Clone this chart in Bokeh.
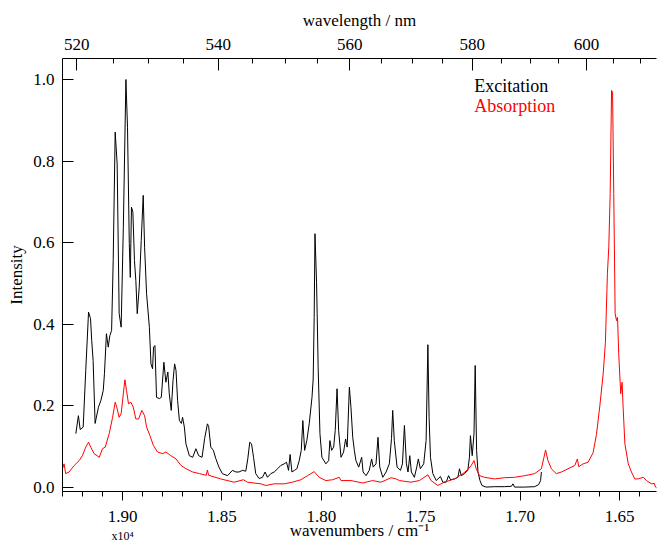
import numpy as np
from bokeh.plotting import figure
from bokeh.models import (Range1d, LinearAxis, FixedTicker, SingleIntervalTicker,
                          PrintfTickFormatter, CustomJSTickFormatter, Label)
from bokeh.embed import file_html
from bokeh.resources import INLINE

# ---- data (wavenumber in cm^-1, intensity) ----
exc_wn = [19235, 19222, 19213, 19198, 19185, 19171, 19161, 19155, 19148, 19138,
          19121, 19109, 19097, 19091, 19081, 19072, 19064, 19055, 19047, 19037,
          19027, 19017, 19007, 18996, 18983, 18975, 18966, 18961, 18955, 18948,
          18940, 18933, 18926, 18916, 18906, 18896, 18889, 18879, 18865, 18857,
          18849, 18844, 18837, 18829, 18815, 18805, 18792, 18782, 18772, 18765,
          18755, 18746, 18738, 18731, 18723, 18714, 18704, 18698, 18689, 18681,
          18664, 18647, 18631, 18617, 18600, 18587, 18573, 18567, 18556, 18543,
          18531, 18515, 18498, 18472, 18447, 18430, 18414, 18397, 18380, 18370,
          18360, 18351, 18341, 18330, 18313, 18296, 18283, 18271, 18254, 18237,
          18220, 18204, 18187, 18175, 18165, 18157, 18148, 18135, 18123, 18111,
          18101, 18093, 18084, 18073, 18061, 18047, 18041, 18036, 18032, 18024,
          18021, 18016, 18007, 17997, 17977, 17963, 17957, 17948, 17938, 17930,
          17921, 17913, 17901, 17888, 17878, 17870, 17859, 17851, 17842, 17834,
          17826, 17812, 17797, 17790, 17775, 17759, 17747, 17739, 17725, 17715,
          17706, 17691, 17674, 17658, 17647, 17641, 17633, 17619, 17602, 17592,
          17582, 17572, 17564, 17555, 17547, 17532, 17520, 17512, 17502, 17485,
          17473, 17464, 17458, 17451, 17439, 17422, 17401, 17389, 17372, 17360,
          17350, 17330, 17313, 17305, 17296, 17280, 17263, 17255, 17250, 17241,
          17232, 17226, 17219, 17212, 17202, 17192, 17171, 17129, 17078, 17044,
          17036, 17028, 16977, 16927, 16907, 16897, 16893]
exc_int = [0.132, 0.176, 0.142, 0.148, 0.287, 0.430, 0.414, 0.360, 0.311, 0.157,
           0.197, 0.213, 0.238, 0.279, 0.377, 0.344, 0.372, 0.385, 0.556, 0.871,
           0.793, 0.426, 0.393, 0.638, 1.000, 0.883, 0.598, 0.515, 0.687, 0.675,
           0.556, 0.507, 0.426, 0.491, 0.605, 0.716, 0.589, 0.475, 0.393, 0.303,
           0.291, 0.344, 0.348, 0.221, 0.218, 0.221, 0.307, 0.258, 0.283, 0.230,
           0.189, 0.262, 0.303, 0.287, 0.213, 0.164, 0.157, 0.172, 0.148, 0.107,
           0.078, 0.074, 0.095, 0.078, 0.074, 0.120, 0.156, 0.150, 0.099, 0.091,
           0.071, 0.050, 0.034, 0.029, 0.042, 0.038, 0.038, 0.042, 0.040, 0.070,
           0.111, 0.107, 0.074, 0.034, 0.022, 0.025, 0.038, 0.025, 0.034, 0.038,
           0.046, 0.054, 0.058, 0.062, 0.042, 0.081, 0.038, 0.042, 0.046, 0.066,
           0.091, 0.164, 0.091, 0.115, 0.156, 0.221, 0.266, 0.417, 0.622, 0.503,
           0.426, 0.295, 0.132, 0.074, 0.058, 0.066, 0.115, 0.091, 0.099, 0.140,
           0.242, 0.140, 0.074, 0.087, 0.119, 0.099, 0.246, 0.197, 0.123, 0.091,
           0.066, 0.050, 0.074, 0.038, 0.029, 0.042, 0.070, 0.050, 0.058, 0.123,
           0.050, 0.025, 0.038, 0.058, 0.120, 0.189, 0.115, 0.050, 0.042, 0.058,
           0.152, 0.058, 0.038, 0.078, 0.038, 0.025, 0.050, 0.070, 0.046, 0.058,
           0.115, 0.350, 0.172, 0.074, 0.034, 0.017, 0.027, 0.013, 0.013, 0.029,
           0.019, 0.021, 0.025, 0.046, 0.029, 0.034, 0.042, 0.074, 0.127, 0.078,
           0.132, 0.299, 0.091, 0.038, 0.017, 0.005, 0.001, 0.002, 0.002, 0.003,
           0.009, 0.001, 0.001, 0.002, 0.007, 0.017, 0.038]

abs_wn = [19302, 19294, 19286, 19269, 19243, 19218, 19202, 19185, 19171, 19160,
          19143, 19117, 19101, 19087, 19067, 19050, 19037, 19029, 19017, 19007,
          18996, 18988, 18980, 18970, 18958, 18946, 18933, 18919, 18903, 18889,
          18879, 18862, 18845, 18824, 18798, 18782, 18757, 18731, 18706, 18681,
          18647, 18613, 18579, 18573, 18567, 18506, 18439, 18392, 18372, 18304,
          18279, 18237, 18187, 18145, 18103, 18069, 18036, 18011, 17977, 17943,
          17910, 17901, 17851, 17792, 17742, 17700, 17649, 17624, 17607, 17549,
          17507, 17464, 17448, 17414, 17381, 17330, 17288, 17263, 17246, 17232,
          17221, 17204, 17179, 17129, 17078, 17028, 16977, 16927, 16893, 16880,
          16872, 16860, 16843, 16818, 16792, 16759, 16725, 16712, 16705, 16683,
          16658, 16633, 16616, 16599, 16582, 16571, 16561, 16554, 16547, 16540,
          16535, 16529, 16522, 16515, 16510, 16504, 16494, 16487, 16482, 16473,
          16456, 16440, 16423, 16406, 16381, 16364, 16339, 16325, 16319, 16305]
abs_int = [0.046, 0.058, 0.034, 0.038, 0.054, 0.066, 0.078, 0.099, 0.111, 0.099,
           0.083, 0.074, 0.095, 0.099, 0.132, 0.172, 0.209, 0.197, 0.172, 0.181,
           0.230, 0.264, 0.238, 0.205, 0.209, 0.197, 0.168, 0.168, 0.189, 0.176,
           0.148, 0.127, 0.103, 0.087, 0.083, 0.087, 0.078, 0.070, 0.054, 0.046,
           0.038, 0.034, 0.030, 0.043, 0.030, 0.021, 0.013, 0.019, 0.013, 0.009,
           0.005, 0.009, 0.009, 0.013, 0.019, 0.029, 0.039, 0.025, 0.017, 0.019,
           0.025, 0.017, 0.017, 0.011, 0.017, 0.013, 0.024, 0.021, 0.017, 0.013,
           0.017, 0.031, 0.017, 0.005, 0.013, 0.021, 0.034, 0.044, 0.054, 0.066,
           0.046, 0.029, 0.025, 0.021, 0.024, 0.025, 0.029, 0.034, 0.046, 0.074,
           0.092, 0.066, 0.046, 0.034, 0.038, 0.046, 0.054, 0.070, 0.051, 0.058,
           0.062, 0.085, 0.130, 0.200, 0.280, 0.356, 0.524, 0.589, 0.720, 0.973,
           0.969, 0.720, 0.426, 0.409, 0.417, 0.328, 0.230, 0.258, 0.197, 0.107,
           0.058, 0.038, 0.021, 0.021, 0.025, 0.017, 0.009, 0.010, 0.001, -0.003]

wl_major = [520, 540, 560, 580, 600]
wl_minor = [515, 525, 530, 535, 545, 550, 555, 565, 570, 575, 585, 590, 595, 605, 610, 615]
y_ticks = [0.0, 0.2, 0.4, 0.6, 0.8, 1.0]
multiplier_tick = [1.90]
multiplier_text = "x10\u2074"

FONT = "Liberation Serif"

p = figure(width=657, height=542, output_backend="svg", toolbar_location=None,
           x_range=Range1d(1.9302, 1.6314), y_range=Range1d(-0.0098, 1.0515),
           min_border_left=62, min_border_right=1, min_border_top=58,
           min_border_bottom=51)
p.outline_line_color = None
p.grid.visible = False
p.background_fill_color = "white"
p.border_fill_color = "white"

p.line(np.array(exc_wn) / 1e4, exc_int, line_color="black", line_width=1)
p.line(np.array(abs_wn) / 1e4, abs_int, line_color="#ff0000", line_width=1)

def style(ax, size="17px"):
    ax.major_label_text_font = FONT
    ax.major_label_text_font_size = size
    ax.major_label_text_color = "black"
    ax.axis_label_text_font = FONT
    ax.axis_label_text_font_size = size
    ax.axis_label_text_font_style = "normal"
    ax.axis_label_text_color = "black"
    ax.axis_line_color = "black"
    ax.major_tick_line_color = "black"
    ax.minor_tick_line_color = "black"

# bottom axis (numbers)
xb = p.xaxis[0]
xb.ticker = SingleIntervalTicker(interval=0.05, num_minor_ticks=5)
xb.formatter = PrintfTickFormatter(format="%.2f")
style(xb)
xb.major_tick_out = 9
xb.major_tick_in = 0
xb.minor_tick_out = 5
xb.minor_tick_in = 0
xb.major_label_standoff = 10

# second bottom row: multiplier + axis label
xb2 = LinearAxis(ticker=FixedTicker(ticks=multiplier_tick, minor_ticks=[]),
                 formatter=CustomJSTickFormatter(code="return '%s';" % multiplier_text),
                 axis_label="wavenumbers / cm\u207b\u00b9")
style(xb2)
xb2.major_label_text_font_size = "12px"
xb2.axis_line_color = None
xb2.major_tick_line_color = None
xb2.minor_tick_line_color = None
xb2.major_tick_in = 0
xb2.major_tick_out = 0
xb2.minor_tick_in = 0
xb2.minor_tick_out = 0
xb2.major_label_standoff = 4
xb2.axis_label_standoff = -25
p.add_layout(xb2, "below")

# left axis
yl = p.yaxis[0]
yl.ticker = FixedTicker(ticks=y_ticks)
yl.formatter = PrintfTickFormatter(format="%.1f")
yl.axis_label = "Intensity"
style(yl)
yl.major_tick_in = 11
yl.major_tick_out = 0
yl.minor_tick_line_color = None
yl.major_label_standoff = 8
yl.axis_label_standoff = 4

# top axis (wavelength)
xt = LinearAxis(ticker=FixedTicker(ticks=[1000.0 / w for w in wl_major],
                                   minor_ticks=[1000.0 / w for w in wl_minor]),
                formatter=CustomJSTickFormatter(code="return Math.round(1000/tick).toString();"),
                axis_label="wavelength / nm")
style(xt)
xt.major_tick_in = 12
xt.major_tick_out = 0
xt.minor_tick_in = 5
xt.minor_tick_out = 0
xt.major_label_standoff = 9
xt.axis_label_standoff = 6
p.add_layout(xt, "above")

# legend texts
p.add_layout(Label(x=1.7231, y=0.985, text="Excitation", text_font=FONT,
                   text_font_size="18px", text_align="left",
                   text_baseline="middle", text_color="black"))
p.add_layout(Label(x=1.7231, y=0.934, text="Absorption", text_font=FONT,
                   text_font_size="18px", text_align="left",
                   text_baseline="middle", text_color="#ff0000"))

open("out.html", "w").write(file_html(p, INLINE))
